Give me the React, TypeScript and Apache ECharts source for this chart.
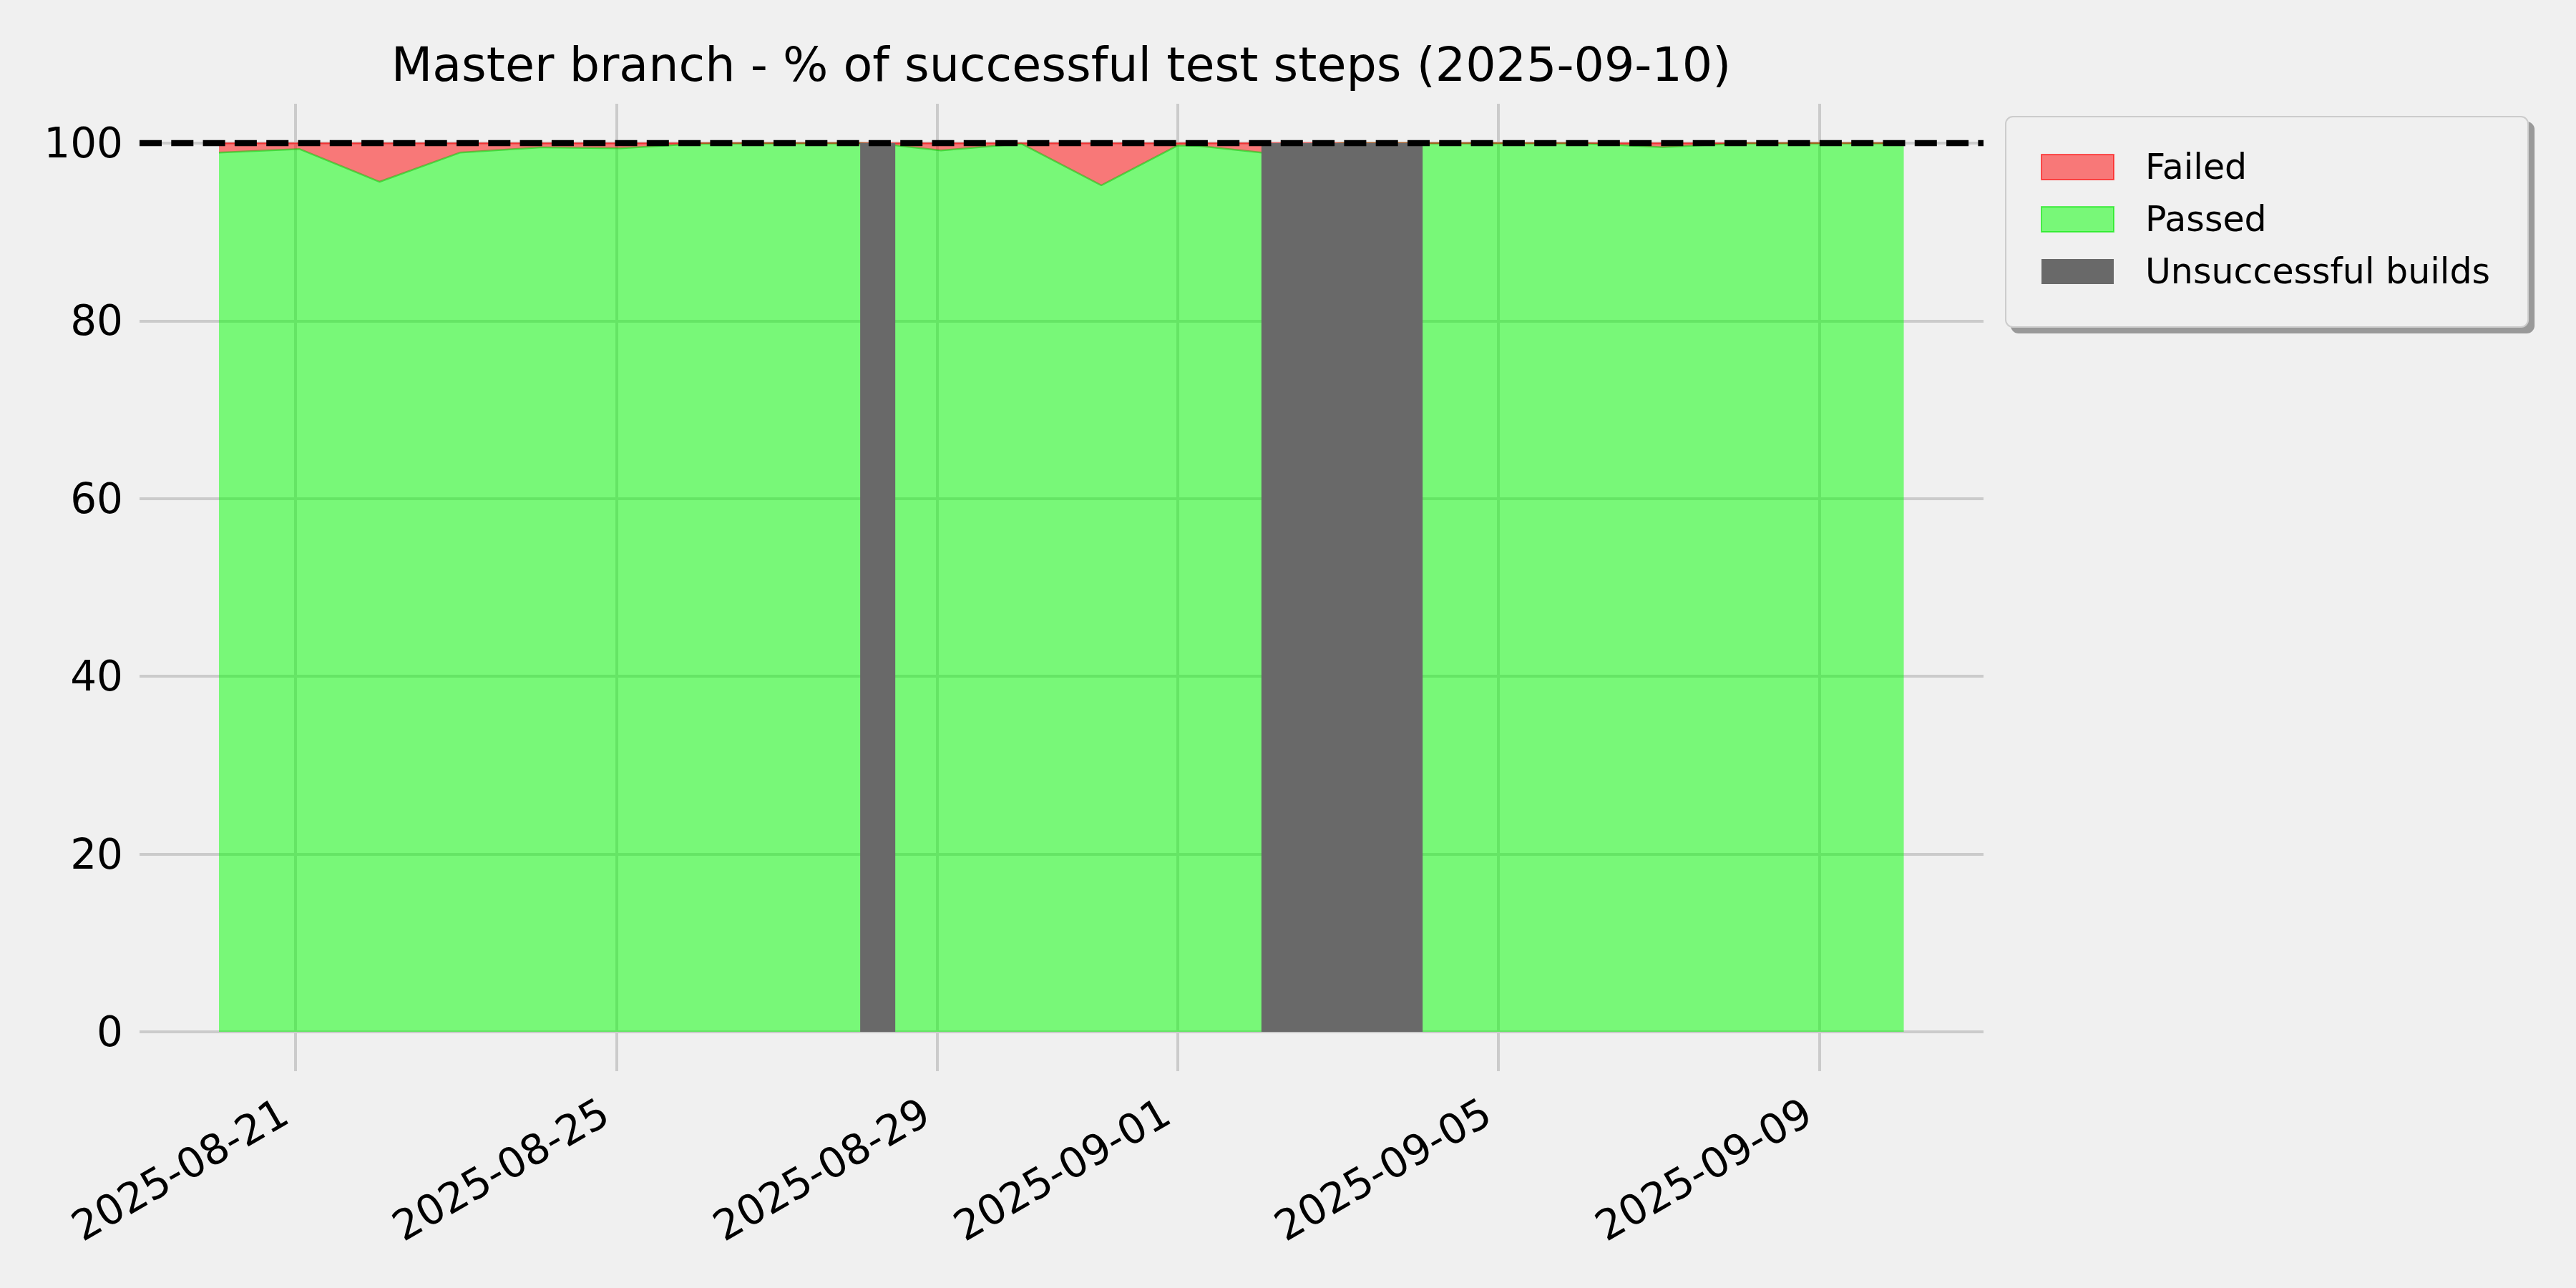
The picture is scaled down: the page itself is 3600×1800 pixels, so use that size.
import React, { useEffect, useRef } from 'react';
import * as echarts from 'echarts';

// ---- data ----
const titleText = 'Master branch - % of successful test steps (2025-09-10)';

const buildTimes = [
  '2025-08-20T01:05:00Z',
  '2025-08-21T01:15:00Z',
  '2025-08-22T01:10:00Z',
  '2025-08-23T01:10:00Z',
  '2025-08-24T01:10:00Z',
  '2025-08-25T01:10:00Z',
  '2025-08-26T01:10:00Z',
  '2025-08-27T01:10:00Z',
  '2025-08-28T01:10:00Z',
  '2025-08-28T11:30:00Z',
  '2025-08-29T01:10:00Z',
  '2025-08-30T01:10:00Z',
  '2025-08-31T01:10:00Z',
  '2025-09-01T00:00:00Z',
  '2025-09-01T06:35:00Z',
  '2025-09-02T01:10:00Z',
  '2025-09-03T01:10:00Z',
  '2025-09-04T01:20:00Z',
  '2025-09-05T01:10:00Z',
  '2025-09-06T01:10:00Z',
  '2025-09-07T01:10:00Z',
  '2025-09-08T01:10:00Z',
  '2025-09-09T01:10:00Z',
  '2025-09-10T01:20:00Z',
];

const passedPct = [
  98.93, 99.33, 95.65, 98.93, 99.52, 99.41, 99.97, 100, 100, 99.75, 99.17, 99.95,
  95.25, 99.73, 99.68, 98.93, 100, 100, 100, 100, 99.54, 100, 100, 100,
];

const failedPct = [
  1.07, 0.67, 4.35, 1.07, 0.48, 0.59, 0.03, 0, 0, 0.25, 0.83, 0.05,
  4.75, 0.27, 0.32, 1.07, 0, 0, 0, 0, 0.46, 0, 0, 0,
];

const unsuccessfulStart = ['2025-08-28T01:00:00Z', '2025-09-02T01:05:00Z'];
const unsuccessfulEnd = ['2025-08-28T11:30:00Z', '2025-09-04T01:20:00Z'];
const unsuccessfulHeight = [100, 100];

const xTickLabels = ['2025-08-21', '2025-08-25', '2025-08-29', '2025-09-01', '2025-09-05', '2025-09-09'];
const yTicks = [0, 20, 40, 60, 80, 100];
const targetPct = 100;

const xMin = '2025-08-19T01:19:00Z';
const xMax = '2025-09-11T01:12:00Z';
const yMin = -4.43;
const yMax = 104.43;

const FONT = "'DejaVu Sans', sans-serif";

export default function App() {
  const ref = useRef<HTMLDivElement>(null);

  useEffect(() => {
    document.body.style.margin = '0';
    document.body.style.background = '#f0f0f0';
    const el = ref.current;
    if (!el) return;
    const chart = echarts.init(el, null, { renderer: 'svg' });
    const ts = (s: string) => Date.parse(s);
    const xTickValues = xTickLabels.map((d) => Date.parse(d + 'T00:00:00Z'));
    // value first so that the stack is applied to the percentage, not the time
    const dims = [
      { name: 'pct', type: 'float' },
      { name: 't', type: 'float' },
    ];

    const option: any = {
      animation: false,
      backgroundColor: '#f0f0f0',
      textStyle: { fontFamily: FONT },
      title: {
        text: titleText,
        left: 1483,
        top: 55,
        textAlign: 'center',
        padding: 0,
        textStyle: { fontSize: 66.7, lineHeight: 69, fontWeight: 'normal', color: '#000', fontFamily: FONT },
      },
      legend: {
        orient: 'vertical',
        left: 2803,
        top: 163,
        padding: [46, 53, 53, 49],
        itemWidth: 101,
        itemHeight: 35,
        itemGap: 24,
        backgroundColor: '#f0f0f0',
        borderColor: '#cccccc',
        borderWidth: 2,
        borderRadius: 10,
        shadowColor: '#999999',
        shadowBlur: 0,
        shadowOffsetX: 8,
        shadowOffsetY: 8,
        selectedMode: false,
        textStyle: { fontSize: 49, lineHeight: 35, color: '#000', fontFamily: FONT, padding: [0, 0, 0, 39] },
        data: [
          { name: 'Failed', icon: 'rect', itemStyle: { color: 'rgba(255,0,0,0.5)', borderColor: 'rgba(255,0,0,0.6)', borderWidth: 2 } },
          { name: 'Passed', icon: 'rect', itemStyle: { color: 'rgba(0,255,0,0.5)', borderColor: 'rgba(0,230,0,0.6)', borderWidth: 2 } },
          { name: 'Unsuccessful builds', icon: 'rect', itemStyle: { color: '#696969', borderWidth: 0 } },
        ],
      },
      grid: { left: 195, right: 828, top: 145, bottom: 303, containLabel: false, outerBoundsMode: 'none' },
      xAxis: {
        type: 'value',
        min: ts(xMin),
        max: ts(xMax),
        axisLine: { show: false },
        axisTick: { show: false, customValues: xTickValues },
        axisLabel: {
          customValues: xTickValues,
          rotate: 30,
          margin: 44,
          padding: [0, 18, 0, 0],
          fontSize: 58,
          color: '#000',
          fontFamily: FONT,
          formatter: (v: number) => {
            const i = xTickValues.indexOf(v);
            return i >= 0 ? xTickLabels[i] : '';
          },
        },
        splitLine: { show: true, lineStyle: { color: '#cbcbcb', width: 4 } },
      },
      yAxis: {
        type: 'value',
        min: yMin,
        max: yMax,
        axisLine: { show: false },
        axisTick: { show: false, customValues: yTicks },
        axisLabel: { customValues: yTicks, margin: 23, fontSize: 58, color: '#000', fontFamily: FONT },
        splitLine: { show: true, lineStyle: { color: '#cbcbcb', width: 4 } },
      },
      series: [
        {
          name: 'Passed',
          type: 'line',
          stack: 'pct',
          dimensions: dims,
          encode: { x: 1, y: 0 },
          data: buildTimes.map((t, i) => [passedPct[i], ts(t)]),
          showSymbol: false,
          symbol: 'none',
          lineStyle: { color: 'rgba(0,200,0,0.5)', width: 2.5 },
          itemStyle: { color: 'rgba(0,255,0,0.5)' },
          areaStyle: { color: 'rgba(0,255,0,0.5)', opacity: 1 },
          z: 2,
        },
        {
          name: 'Failed',
          type: 'line',
          stack: 'pct',
          dimensions: dims,
          encode: { x: 1, y: 0 },
          data: buildTimes.map((t, i) => [failedPct[i], ts(t)]),
          showSymbol: false,
          symbol: 'none',
          lineStyle: { color: 'rgba(255,0,0,0.5)', width: 2.5 },
          itemStyle: { color: 'rgba(255,0,0,0.5)' },
          areaStyle: { color: 'rgba(255,0,0,0.5)', opacity: 1 },
          z: 2,
        },
        {
          name: 'Unsuccessful builds',
          type: 'custom',
          data: unsuccessfulStart.map((s, i) => [ts(s), ts(unsuccessfulEnd[i]), unsuccessfulHeight[i]]),
          encode: { x: [0, 1], y: 2 },
          itemStyle: { color: '#696969' },
          renderItem: (params: any, api: any) => {
            const p0 = api.coord([api.value(0), api.value(2)]);
            const p1 = api.coord([api.value(1), 0]);
            return {
              type: 'rect',
              shape: { x: p0[0], y: p0[1], width: p1[0] - p0[0], height: p1[1] - p0[1] },
              style: { fill: '#696969' },
            };
          },
          z: 3,
        },
        {
          name: 'target',
          type: 'line',
          data: [],
          z: 5,
          markLine: {
            silent: true,
            symbol: ['none', 'none'],
            label: { show: false },
            lineStyle: { color: '#000', width: 8.3, type: [31, 13.3] },
            data: [{ yAxis: targetPct }],
          },
        },
      ],
    };

    chart.setOption(option);
    return () => chart.dispose();
  }, []);

  return (
    <div
      ref={ref}
      style={{ position: 'absolute', left: 0, top: 0, width: 3600, height: 1800, background: '#f0f0f0' }}
    />
  );
}
